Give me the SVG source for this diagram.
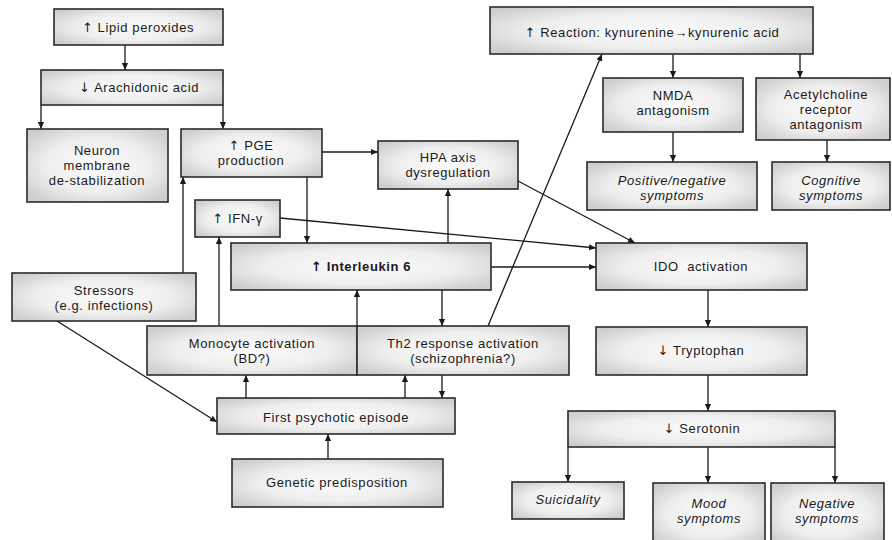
<svg xmlns="http://www.w3.org/2000/svg" width="892" height="540" viewBox="0 0 892 540">
<defs>
<radialGradient id="g" cx="0.5" cy="0.5" r="0.62">
<stop offset="0" stop-color="#fbfbfb"/>
<stop offset="0.6" stop-color="#eeeeee"/>
<stop offset="1" stop-color="#cfcfcf"/>
</radialGradient>
<marker id="a" viewBox="0 0 8 8" refX="8" refY="4" markerWidth="7" markerHeight="7" markerUnits="userSpaceOnUse" orient="auto">
<path d="M0,0.5 L8,4 L0,7.5 Z" fill="#1a1a1a"/>
</marker>
<style>
.b{fill:url(#g);stroke:#2a2a2a;stroke-width:1.6}
text{font-family:"Liberation Sans",Arial,sans-serif;font-size:13px;letter-spacing:0.6px;fill:#1a1a1a;text-anchor:middle}
.bd{font-weight:bold}
.it{font-style:italic}
.ua{font-family:"DejaVu Sans",sans-serif;font-size:13px}
.c line{stroke:#1a1a1a;stroke-width:1.3;fill:none}
.ar{marker-end:url(#a)}
</style>
</defs>
<rect width="892" height="540" fill="#ffffff"/>

<g class="c" id="connectors">
<line class="ar" x1="125" y1="45" x2="125" y2="70"/>
<line class="ar" x1="41" y1="105" x2="41" y2="129"/>
<line class="ar" x1="223" y1="105" x2="223" y2="129"/>
<line class="ar" x1="322" y1="152" x2="378" y2="152"/>
<line class="ar" x1="307" y1="177" x2="307" y2="243"/>
<line class="ar" x1="183" y1="273" x2="183" y2="177"/>
<line class="ar" x1="219" y1="326" x2="219" y2="237"/>
<line class="ar" x1="280" y1="218" x2="596" y2="248"/>
<line class="ar" x1="448" y1="243" x2="448" y2="189"/>
<line class="ar" x1="491" y1="267" x2="596" y2="267"/>
<line class="ar" x1="518" y1="181" x2="635" y2="243"/>
<line class="ar" x1="488" y1="326" x2="602" y2="54"/>
<line class="ar" x1="442" y1="290" x2="442" y2="326"/>
<line class="ar" x1="357" y1="326" x2="357" y2="290"/>
<line class="ar" x1="246" y1="398" x2="246" y2="375"/>
<line class="ar" x1="405" y1="398" x2="405" y2="375"/>
<line class="ar" x1="442" y1="375" x2="442" y2="398"/>
<line class="ar" x1="57" y1="321" x2="217" y2="422"/>
<line class="ar" x1="328" y1="459" x2="328" y2="434"/>
<line class="ar" x1="673" y1="54" x2="673" y2="78"/>
<line class="ar" x1="800" y1="54" x2="800" y2="78"/>
<line class="ar" x1="673" y1="132" x2="673" y2="162"/>
<line class="ar" x1="827" y1="140" x2="827" y2="162"/>
<line class="ar" x1="708" y1="290" x2="708" y2="327"/>
<line class="ar" x1="708" y1="375" x2="708" y2="411"/>
<line class="ar" x1="568" y1="447" x2="568" y2="482"/>
<line class="ar" x1="708" y1="447" x2="708" y2="483"/>
<line class="ar" x1="835" y1="447" x2="835" y2="483"/>
</g>

<g id="lipid"><rect class="b" x="54" y="9" width="169" height="36"/><text x="138" y="32"><tspan class="ua">↑</tspan> Lipid peroxides</text></g>
<g id="arachidonic"><rect class="b" x="41" y="70" width="182" height="35"/><text x="139" y="92"><tspan class="ua">↓</tspan> Arachidonic acid</text></g>
<g id="neuron"><rect class="b" x="27" y="129" width="141" height="73"/><text x="97" y="155">Neuron</text><text x="97" y="170">membrane</text><text x="97" y="185">de-stabilization</text></g>
<g id="pge"><rect class="b" x="181" y="129" width="141" height="48"/><text x="251" y="150"><tspan class="ua">↑</tspan> PGE</text><text x="251" y="165">production</text></g>
<g id="hpa"><rect class="b" x="378" y="141" width="140" height="48"/><text x="448" y="162">HPA axis</text><text x="448" y="177">dysregulation</text></g>
<g id="ifn"><rect class="b" x="195" y="200" width="85" height="37"/><text x="237.5" y="223"><tspan class="ua">↑</tspan> IFN-γ</text></g>
<g id="il6"><rect class="b" x="231" y="243" width="260" height="47"/><text class="bd" x="361" y="271"><tspan class="ua">↑</tspan> Interleukin 6</text></g>
<g id="stressors"><rect class="b" x="12" y="273" width="184" height="48"/><text x="104" y="295">Stressors</text><text x="104" y="310">(e.g. infections)</text></g>
<g id="monocyte"><rect class="b" x="147" y="326" width="210" height="49"/><text x="252" y="348">Monocyte activation</text><text x="252" y="363">(BD?)</text></g>
<g id="th2"><rect class="b" x="357" y="326" width="212" height="49"/><text x="463" y="348">Th2 response activation</text><text x="463" y="363">(schizophrenia?)</text></g>
<g id="first"><rect class="b" x="217" y="398" width="238" height="36"/><text x="336" y="422">First psychotic episode</text></g>
<g id="genetic"><rect class="b" x="232" y="459" width="211" height="48"/><text x="337" y="487">Genetic predisposition</text></g>
<g id="reaction"><rect class="b" x="490" y="7" width="323" height="47"/><text x="652" y="37"><tspan class="ua">↑</tspan> Reaction: kynurenine→kynurenic acid</text></g>
<g id="nmda"><rect class="b" x="603" y="78" width="140" height="54"/><text x="673" y="100">NMDA</text><text x="673" y="115">antagonism</text></g>
<g id="ach"><rect class="b" x="756" y="78" width="134" height="62"/><text x="826" y="99">Acetylcholine</text><text x="826" y="114">receptor</text><text x="826" y="129">antagonism</text></g>
<g id="positive"><rect class="b" x="587" y="162" width="170" height="48"/><text class="it" x="672" y="185">Positive/negative</text><text class="it" x="672" y="200">symptoms</text></g>
<g id="cognitive"><rect class="b" x="772" y="162" width="118" height="48"/><text class="it" x="831" y="185">Cognitive</text><text class="it" x="831" y="200">symptoms</text></g>
<g id="ido"><rect class="b" x="596" y="243" width="211" height="47"/><text x="701" y="271" xml:space="preserve">IDO  activation</text></g>
<g id="tryptophan"><rect class="b" x="596" y="327" width="211" height="48"/><text x="701" y="355"><tspan class="ua">↓</tspan> Tryptophan</text></g>
<g id="serotonin"><rect class="b" x="568" y="411" width="267" height="36"/><text x="702" y="433"><tspan class="ua">↓</tspan> Serotonin</text></g>
<g id="suicidality"><rect class="b" x="512" y="482" width="112" height="37"/><text class="it" x="568" y="504">Suicidality</text></g>
<g id="mood"><rect class="b" x="653" y="483" width="112" height="62"/><text class="it" x="709" y="508">Mood</text><text class="it" x="709" y="523">symptoms</text></g>
<g id="negative"><rect class="b" x="771" y="483" width="113" height="62"/><text class="it" x="827" y="508">Negative</text><text class="it" x="827" y="523">symptoms</text></g>
</svg>
